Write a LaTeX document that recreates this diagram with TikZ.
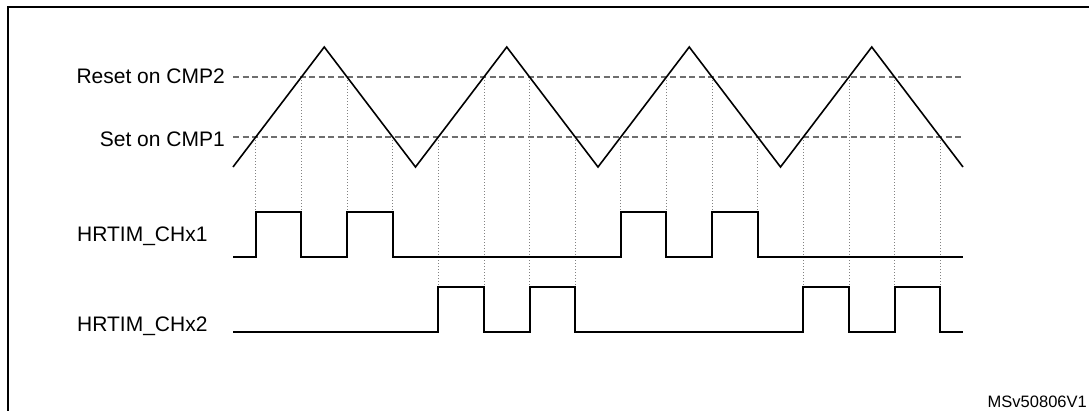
\documentclass[tikz,border=0pt]{standalone}
\usepackage{fontspec}
\setmainfont{Liberation Sans}
\definecolor{dashgray}{RGB}{110,110,110}
\definecolor{dotgray}{RGB}{130,130,130}
\begin{document}
\begin{tikzpicture}[x=1pt,y=-1pt,
  frameline/.style={line width=2.2pt,black},
  wave/.style={line width=1.6pt,black,line join=miter},
  pulse/.style={line width=1.9pt,black,line join=miter},
  levelline/.style={line width=1.3pt,dashgray,dash pattern=on 6pt off 3.5pt},
  guide/.style={line width=0.7pt,dotgray,dash pattern=on 1pt off 2pt},
  lbl/.style={inner sep=0pt,font=\fontsize{21}{25}\selectfont},
  tag/.style={inner sep=0pt,font=\fontsize{16.5}{20}\selectfont}]
\fill[white] (0,0) rectangle (1089,410);
\useasboundingbox (0,0) rectangle (1089,410);
% frame
\coordinate (fbl) at (8,412);
\coordinate (ftl) at (8,7);
\coordinate (ftr) at (1091,7);
\draw[frameline] (fbl) -- (ftl) -- (ftr);
% labels
\node[lbl,anchor=base east] (rst) at (225,83.5) {Reset on CMP2};
\node[lbl,anchor=base east] (set) at (225,146) {Set on CMP1};
\node[lbl,anchor=base west] (ch1) at (77,241.5) {HRTIM\_CHx1};
\node[lbl,anchor=base west] (ch2) at (77,331) {HRTIM\_CHx2};
\node[tag,anchor=base east] (ver) at (1087,407.5) {MSv50806V1};
% level lines
\coordinate (r0) at (233,77); \coordinate (r1) at (963,77);
\coordinate (s0) at (233,137); \coordinate (s1) at (963,137);
\draw[levelline] (r0) -- (r1);
\draw[levelline] (s0) -- (s1);
% dotted guides for CHx1
\foreach \x/\y in {255.81/137,301.44/77,347.06/77,392.69/137,620.81/137,666.44/77,712.06/77,757.69/137}
  \draw[guide] (\x,\y) -- (\x,212);
% dotted guides for CHx2
\foreach \x/\y in {438.31/137,483.94/77,529.56/77,575.19/137,803.31/137,848.94/77,894.56/77,940.19/137}
  \draw[guide] (\x,\y) -- (\x,287);
% triangle carrier
\draw[wave] (233,167) -- (324.25,47) -- (415.5,167) -- (506.75,47) -- (598,167)
  -- (689.25,47) -- (780.5,167) -- (871.75,47) -- (963,167);
% HRTIM_CHx1
\draw[pulse] (233,257) -- (255.81,257) -- (255.81,212) -- (301.44,212) -- (301.44,257)
  -- (347.06,257) -- (347.06,212) -- (392.69,212) -- (392.69,257)
  -- (620.81,257) -- (620.81,212) -- (666.44,212) -- (666.44,257)
  -- (712.06,257) -- (712.06,212) -- (757.69,212) -- (757.69,257) -- (963,257);
% HRTIM_CHx2
\draw[pulse] (233,332) -- (438.31,332) -- (438.31,287) -- (483.94,287) -- (483.94,332)
  -- (529.56,332) -- (529.56,287) -- (575.19,287) -- (575.19,332)
  -- (803.31,332) -- (803.31,287) -- (848.94,287) -- (848.94,332)
  -- (894.56,332) -- (894.56,287) -- (940.19,287) -- (940.19,332) -- (963,332);
\end{tikzpicture}
\end{document}
